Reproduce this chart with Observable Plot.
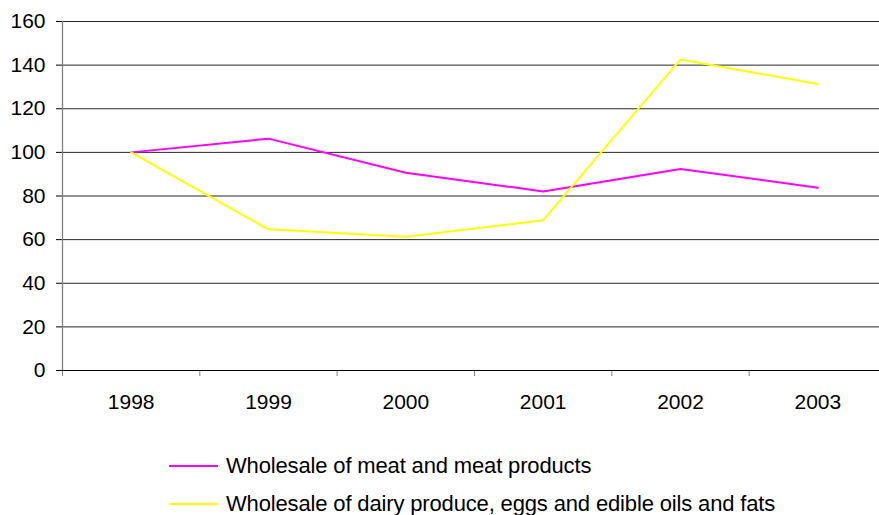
<!DOCTYPE html>
<html>
<head>
<meta charset="utf-8">
<script src="https://cdn.jsdelivr.net/npm/d3@7"></script>
<script src="https://cdn.jsdelivr.net/npm/@observablehq/plot@0.6"></script>
<style>
  html, body { margin: 0; padding: 0; background: #fff; }
  body { width: 879px; height: 515px; overflow: hidden; font-family: Arial, "Liberation Sans", sans-serif; }
  #chart svg { display: block; }
  .legend { position: relative; height: 85px; }
  .item { position: absolute; left: 169px; display: flex; align-items: center; height: 20px; }
  .swatch { width: 49px; height: 2px; margin-right: 8px; }
  .label { font-size: 22px; line-height: 20px; color: #000; letter-spacing: -0.15px; white-space: nowrap; }
</style>
</head>
<body>
<div id="chart"></div>
<div class="legend" id="legend"></div>
<script>
const years = ["1998", "1999", "2000", "2001", "2002", "2003"];
const meat = [100, 106.3, 90.7, 82.1, 92.4, 83.8];
const dairy = [100, 64.7, 61.3, 68.9, 142.6, 131.3];
const seriesNames = [
  "Wholesale of meat and meat products",
  "Wholesale of dairy produce, eggs and edible oils and fats"
];
const seriesColors = ["#FF00FF", "#FFFF00"];
const yTicks = [0, 20, 40, 60, 80, 100, 120, 140, 160];

// long table: category slot i sits at the middle of its band (i + 0.5)
const rows = [];
[meat, dairy].forEach((vals, s) => {
  vals.forEach((v, i) => rows.push({series: seriesNames[s], slot: i + 0.5, value: v}));
});
const boundaries = d3.range(years.length + 1);
const centers = years.map((_, i) => i + 0.5);

const chart = Plot.plot({
  width: 879,
  height: 430,
  marginLeft: 62,
  marginTop: 21,
  marginBottom: 60,
  marginRight: 0,
  style: {fontFamily: "Arial, 'Liberation Sans', sans-serif", fontSize: "21px", color: "#000", background: "#fff"},
  x: {domain: [0, years.length], range: [62, 886], label: null},
  y: {domain: [0, 160], range: [370, 21], label: null},
  color: {domain: seriesNames, range: seriesColors},
  marks: [
    // horizontal gridlines
    Plot.ruleY(yTicks.filter(t => t > 0), {y: d => d, stroke: "#000", strokeWidth: 1, strokeOpacity: 0.85}),
    // category axis: boundary ticks, then centred year labels
    Plot.axisX({ticks: boundaries, tickFormat: () => "", tickSize: 6, stroke: "#808080", strokeOpacity: 1, label: null}),
    Plot.axisX({ticks: centers, tickFormat: d => years[Math.floor(d)], tickSize: 0, tickPadding: 24, fontSize: 21, fill: "#000", label: null}),
    // value axis
    Plot.axisY({ticks: yTicks, tickSize: 6, tickPadding: 11, fontSize: 21, fill: "#000", stroke: "#000", strokeOpacity: 1, label: null}),
    Plot.ruleX([0], {y1: 0, y2: 160, stroke: "#808080", strokeWidth: 1.3}),
    Plot.ruleY([0], {stroke: "#000", strokeWidth: 1}),
    // series
    Plot.line(rows, {x: "slot", y: "value", z: "series", stroke: "series", strokeWidth: 2})
  ]
});
document.getElementById("chart").appendChild(chart);

// legend below the plot
const legend = document.getElementById("legend");
seriesNames.forEach((name, i) => {
  const item = document.createElement("div");
  item.className = "item";
  item.style.top = (26 + i * 38) + "px";
  const sw = document.createElement("div");
  sw.className = "swatch";
  sw.style.background = seriesColors[i];
  const lb = document.createElement("span");
  lb.className = "label";
  lb.textContent = name;
  item.appendChild(sw);
  item.appendChild(lb);
  legend.appendChild(item);
});
</script>
</body>
</html>
